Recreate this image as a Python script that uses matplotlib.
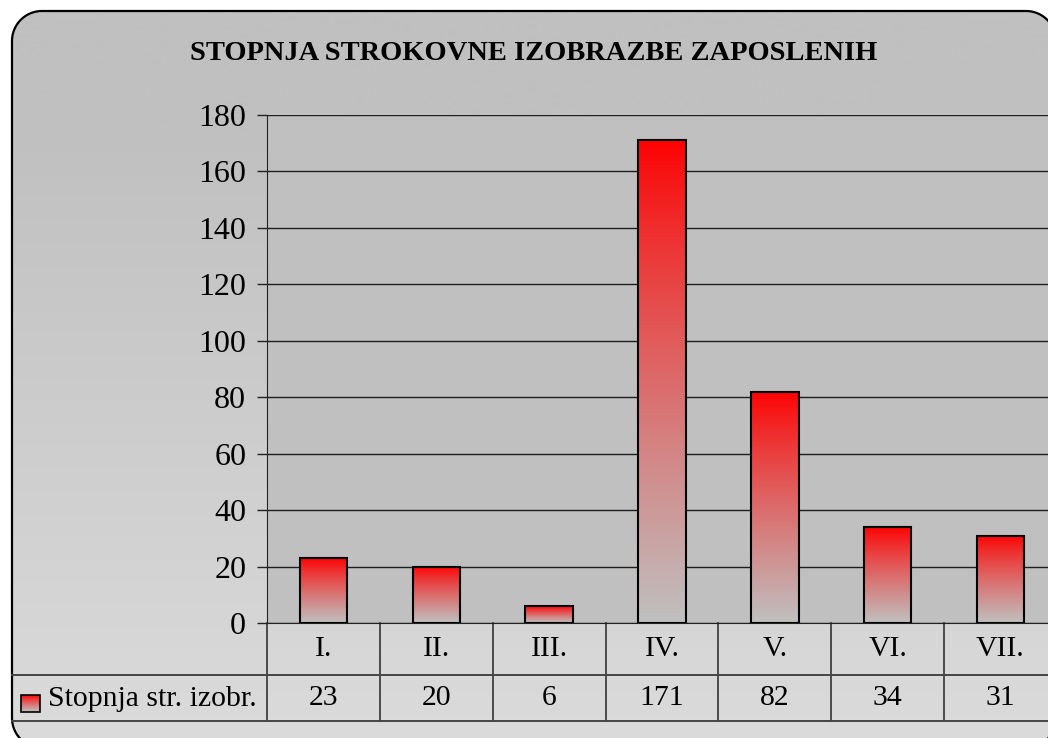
import numpy as np
import matplotlib
matplotlib.use("Agg")
import matplotlib.pyplot as plt
import matplotlib.transforms as mtransforms
from matplotlib.patches import Polygon, Rectangle
from matplotlib.colors import to_rgb

# data
categories = ["I.", "II.", "III.", "IV.", "V.", "VI.", "VII."]
values = [23, 20, 6, 171, 82, 34, 31]
series_name = "Stopnja str. izobr."
title = "STOPNJA STROKOVNE IZOBRAZBE ZAPOSLENIH"
y_ticks = list(range(0, 181, 20))

W, H = 1048, 738
plt.rcParams['font.family'] = ['Liberation Serif', 'DejaVu Serif']


def vgrad(top, bottom, n=256, gamma=0.85):
    t = (np.linspace(0, 1, n) ** gamma)[:, None]
    a = np.array(to_rgb(top))
    b = np.array(to_rgb(bottom))
    return (a * (1 - t) + b * t)[:, None, :]


def rounded_rect(x0, y0, x1, y1, r, n=24):
    # y grows downwards here (pixel coordinates)
    pts = []
    for cx, cy, a0 in [(x0 + r, y0 + r, np.pi), (x1 - r, y0 + r, 1.5 * np.pi),
                       (x1 - r, y1 - r, 0.0), (x0 + r, y1 - r, 0.5 * np.pi)]:
        th = np.linspace(a0, a0 + 0.5 * np.pi, n)
        pts.append(np.column_stack([cx + r * np.cos(th), cy + r * np.sin(th)]))
    return np.vstack(pts)


fig = plt.figure(figsize=(W / 100, H / 100), dpi=100)
fig.patch.set_facecolor('white')

# chart area: rounded frame with a light vertical gradient
bg = fig.add_axes([0, 0, 1, 1])
bg.set_xlim(0, W)
bg.set_ylim(H, 0)
bg.axis('off')

frame = Polygon(rounded_rect(12, 11, 1056, 748, 30), closed=True,
                fc='none', ec='black', lw=1.6, zorder=5)
bg.add_patch(frame)
rows = np.arange(11, 749)
t = np.clip((rows - 130) / (740 - 130), 0, 1)[:, None]
c0 = np.array(to_rgb('#C0C0C0'))
c1 = np.array(to_rgb('#DBDBDB'))
grad = (c0 * (1 - t) + c1 * t)[:, None, :]
img = bg.imshow(grad, extent=[12, 1056, 748, 11], aspect='auto', zorder=1)
img.set_clip_path(frame)
bg.set_xlim(0, W)
bg.set_ylim(H, 0)

bg.text(534, 54, title, ha='center', va='center', fontsize=20.5, fontweight='bold')

# plot area
cat_w = 112.85
ax = fig.add_axes([267 / W, 1 - 623 / H, 7 * cat_w / W, 508 / H])
ax.set_facecolor('#C0C0C0')

x = np.arange(len(categories))
bw = 0.42
for i, v in enumerate(values):
    ax.imshow(vgrad('#FF0000', '#C0C0C0'), extent=[i - bw / 2, i + bw / 2, 0, v],
              aspect='auto', zorder=2)
ax.bar(x, values, width=bw, fill=False, edgecolor='black', lw=1.5, zorder=3)

ax.set_xlim(-0.5, 6.5)
ax.set_ylim(0, 180)
ax.set_yticks(y_ticks)
ax.set_xticks([])
ax.yaxis.grid(True, color='#1e1e1e', lw=1.0)
ax.set_axisbelow(True)
ax.tick_params(axis='y', direction='out', length=7, width=1, pad=8,
               labelsize=23, color='#222222')
for s in ['top', 'right']:
    ax.spines[s].set_visible(False)
ax.spines['left'].set_color('#222222')
ax.spines['bottom'].set_color('#222222')

# data table under the plot
trans = mtransforms.blended_transform_factory(ax.transData, ax.transAxes)
r1 = 52 / 508
r2 = 98 / 508
x0 = -0.5 - (267 - 12) / cat_w
for i, c in enumerate(categories):
    ax.text(i, -r1 / 2, c, transform=trans, ha='center', va='center',
            fontsize=21.4, clip_on=False)
    ax.text(i, -(r1 + r2) / 2, str(values[i]), transform=trans, ha='center',
            va='center', fontsize=21.4, clip_on=False)
for k in range(len(categories) + 1):
    ax.plot([k - 0.5, k - 0.5], [0, -r2], transform=trans, color='#333333',
            lw=1.2, clip_on=False)
for yy in [-r1, -r2]:
    ax.plot([x0, 7.5], [yy, yy], transform=trans, color='#444444', lw=1.4,
            clip_on=False)

# legend key in the table's row header
key = Rectangle((21, 695), 19, 17, fc='none', ec='black', lw=1.2, zorder=4)
bg.add_patch(key)
bg.imshow(vgrad('#FF0000', '#C0C0C0'), extent=[21, 40, 712, 695], aspect='auto', zorder=3)
bg.text(48, 699, series_name, ha='left', va='center', fontsize=21.4)
bg.set_xlim(0, W)
bg.set_ylim(H, 0)

fig.savefig("out.png", dpi=100)
